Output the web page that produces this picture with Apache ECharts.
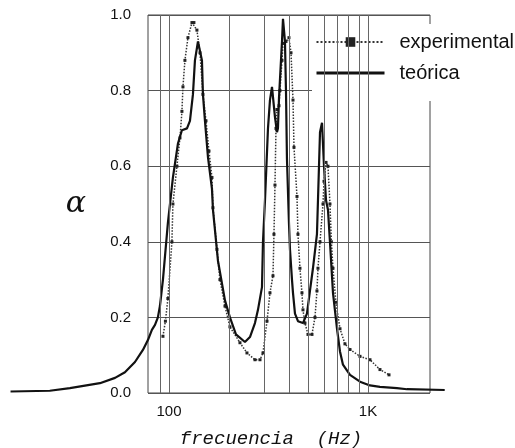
<!DOCTYPE html>
<html>
<head>
<meta charset="utf-8">
<script src="https://cdn.jsdelivr.net/npm/echarts@6/dist/echarts.min.js"></script>
<style>
  html, body { margin: 0; background: #fff; }
  #chart { width: 515px; height: 448px; }
</style>
</head>
<body>
<div id="chart"></div>
<script>
// frequencies (Hz) and absorption coefficient
var theoFreq = [16.0, 25.2, 31.8, 45.0, 53.6, 60.1, 67.5, 74.0, 78.4, 82.1,
  85.1, 88.0, 90.1, 93.3,
  98.8, 101.2, 104.7, 111.0, 116.2, 123.2, 127.5, 132.0, 135.1, 139.9,
  146.5, 148.2, 151.7, 157.0, 164.5, 166.4, 176.3, 191.2, 202.5, 217.1,
  240.9, 255.3, 270.5, 280.1, 293.4, 296.8, 303.8, 314.5, 321.8, 329.4,
  341.0, 349.0, 352.9, 357.2, 369.8, 374.1, 382.8, 387.3, 391.7, 400.9,
  405.6, 415.1, 420.0, 429.8, 444.9, 471.4, 493.7, 511.0, 529.2, 554.2,
  560.8, 574.1, 587.6, 601.3, 615.5, 629.5, 644.2, 667.1, 698.9, 723.4,
  748.9, 812.1, 911.8, 1023.5, 1148.9, 1398.5, 1570.5, 2430];
var theoAlpha = [0.004, 0.006, 0.013, 0.026, 0.04, 0.055, 0.082, 0.114, 0.14, 0.167,
  0.18, 0.20, 0.23, 0.30,
  0.45, 0.50, 0.57, 0.66, 0.695, 0.70, 0.72, 0.79, 0.88, 0.93,
  0.88, 0.79, 0.72, 0.625, 0.54, 0.485, 0.35, 0.245, 0.20, 0.155,
  0.135, 0.148, 0.185, 0.22, 0.28, 0.40, 0.51, 0.70, 0.775, 0.81,
  0.73, 0.69, 0.70, 0.78, 0.93, 0.99, 0.93, 0.80, 0.62, 0.45,
  0.38, 0.30, 0.265, 0.21, 0.19, 0.185, 0.21, 0.27, 0.33, 0.42,
  0.51, 0.69, 0.715, 0.60, 0.51, 0.485, 0.40, 0.265, 0.17, 0.11,
  0.075, 0.048, 0.03, 0.02, 0.016, 0.013, 0.01, 0.008];

var expFreq = [93.3, 96.0, 98.8, 103.5, 104.7, 109.7, 113.6, 116.2, 117.6, 120.3,
  124.6, 130.5, 133.5, 138.2, 143.2, 148.2, 153.5, 158.9, 164.5, 166.4,
  174.3, 180.4, 191.2, 202.5, 227.4, 246.6, 270.5, 286.7, 296.8, 310.9,
  321.8, 333.2, 337.0, 341.0, 345.0, 349.0, 357.2, 361.3, 369.8, 374.1,
  387.3, 400.9, 410.4, 420.0, 424.9, 439.9, 444.9, 455.3, 465.9, 471.4,
  482.4, 499.5, 523.2, 541.7, 554.2, 560.8, 574.1, 594.3, 601.3, 615.5,
  629.5, 644.2, 655.0, 667.1, 690.0, 723.4, 766.2, 812.1, 911.8, 1023.5,
  1148.9, 1275.5];
var expAlpha = [0.15, 0.19, 0.25, 0.40, 0.50, 0.60, 0.675, 0.745, 0.81, 0.88,
  0.94, 0.98, 0.98, 0.96, 0.90, 0.79, 0.72, 0.64, 0.57, 0.49,
  0.38, 0.30, 0.23, 0.175, 0.133, 0.106, 0.088, 0.088, 0.106, 0.19,
  0.265, 0.31, 0.42, 0.55, 0.70, 0.75, 0.76, 0.80, 0.88, 0.925,
  0.93, 0.94, 0.90, 0.775, 0.65, 0.52, 0.42, 0.33, 0.265, 0.22,
  0.185, 0.155, 0.155, 0.20, 0.27, 0.33, 0.40, 0.50, 0.56, 0.61,
  0.60, 0.50, 0.40, 0.33, 0.24, 0.17, 0.13, 0.115, 0.097, 0.088,
  0.062, 0.048];

var gridFreqs = [90, 100, 200, 300, 400, 500, 600, 700, 800, 900, 1000];
var seriesNames = ['experimental', 'teórica'];

function zip(xs, ys) {
  return xs.map(function (x, i) { return [x, ys[i]]; });
}

var chart = echarts.init(document.getElementById('chart'));
var font = 'Liberation Sans, Arial, sans-serif';

chart.setOption({
  animation: false,
  backgroundColor: '#fff',
  grid: [
    // framed box with the grid lines
    { left: 148, right: 85, top: 15, bottom: 55, outerBoundsMode: 'none',
      show: true, borderColor: '#444', borderWidth: 1 },
    // curves run past the box on the left and right
    { left: 10, right: 70, top: 15, bottom: 55, outerBoundsMode: 'none' }
  ],
  xAxis: [
    {
      type: 'log', gridIndex: 0, min: 78.4, max: 2048,
      name: 'frecuencia  (Hz)', nameLocation: 'middle', nameGap: 36,
      nameTextStyle: {
        fontFamily: 'Courier New, Liberation Mono, monospace', fontStyle: 'italic',
        fontSize: 19, color: '#111', padding: [0, 36, 0, 0]
      },
      axisLine: { show: false }, axisTick: { show: false }, splitLine: { show: false },
      axisLabel: {
        fontFamily: font, fontSize: 15, color: '#111', margin: 11,
        formatter: function (v) {
          if (Math.abs(v - 100) < 1) return '100';
          if (Math.abs(v - 1000) < 1) return '1K';
          return '';
        }
      }
    },
    { type: 'log', gridIndex: 1, min: 15.9, max: 2438, show: false }
  ],
  yAxis: [
    {
      type: 'value', gridIndex: 0, min: 0, max: 1, interval: 0.2,
      name: '\u03b1', nameLocation: 'middle', nameRotate: 0, nameGap: 62,
      nameTextStyle: { fontFamily: 'DejaVu Serif, serif', fontStyle: 'italic', fontSize: 30, color: '#111' },
      axisLine: { show: false }, axisTick: { show: false },
      splitLine: { lineStyle: { color: '#555', width: 1 } },
      axisLabel: {
        fontFamily: font, fontSize: 15, color: '#111', margin: 17,
        formatter: function (v) { return v.toFixed(1); }
      }
    },
    { type: 'value', gridIndex: 1, min: 0, max: 1, show: false }
  ],
  legend: {
    data: [
      { name: seriesNames[0] },
      { name: seriesNames[1], itemStyle: { opacity: 0 }, lineStyle: { width: 3 } }
    ],
    orient: 'vertical',
    left: 312, top: 24,
    backgroundColor: '#fff',
    padding: [8, 4, 18, 3],
    itemWidth: 68, itemHeight: 12, itemGap: 11,
    textStyle: { fontFamily: font, fontSize: 20, color: '#111', padding: [0, 0, 0, 10] }
  },
  series: [
    {
      name: seriesNames[0],
      type: 'line',
      xAxisIndex: 1, yAxisIndex: 1,
      data: zip(expFreq, expAlpha),
      symbol: 'rect', symbolSize: 3, showAllSymbol: true,
      lineStyle: { color: '#333', width: 1.5, type: 'dotted' },
      itemStyle: { color: '#222' },
      z: 3
    },
    {
      name: seriesNames[1],
      type: 'line',
      xAxisIndex: 1, yAxisIndex: 1,
      data: zip(theoFreq, theoAlpha),
      symbol: 'none',
      lineStyle: { color: '#111', width: 2.2 },
      itemStyle: { color: '#111' },
      z: 4,
      markLine: {
        silent: true,
        symbol: ['none', 'none'],
        label: { show: false },
        lineStyle: { color: '#666', width: 1, type: 'solid' },
        data: gridFreqs.map(function (f) { return { xAxis: f }; })
      }
    }
  ]
});
</script>
</body>
</html>
